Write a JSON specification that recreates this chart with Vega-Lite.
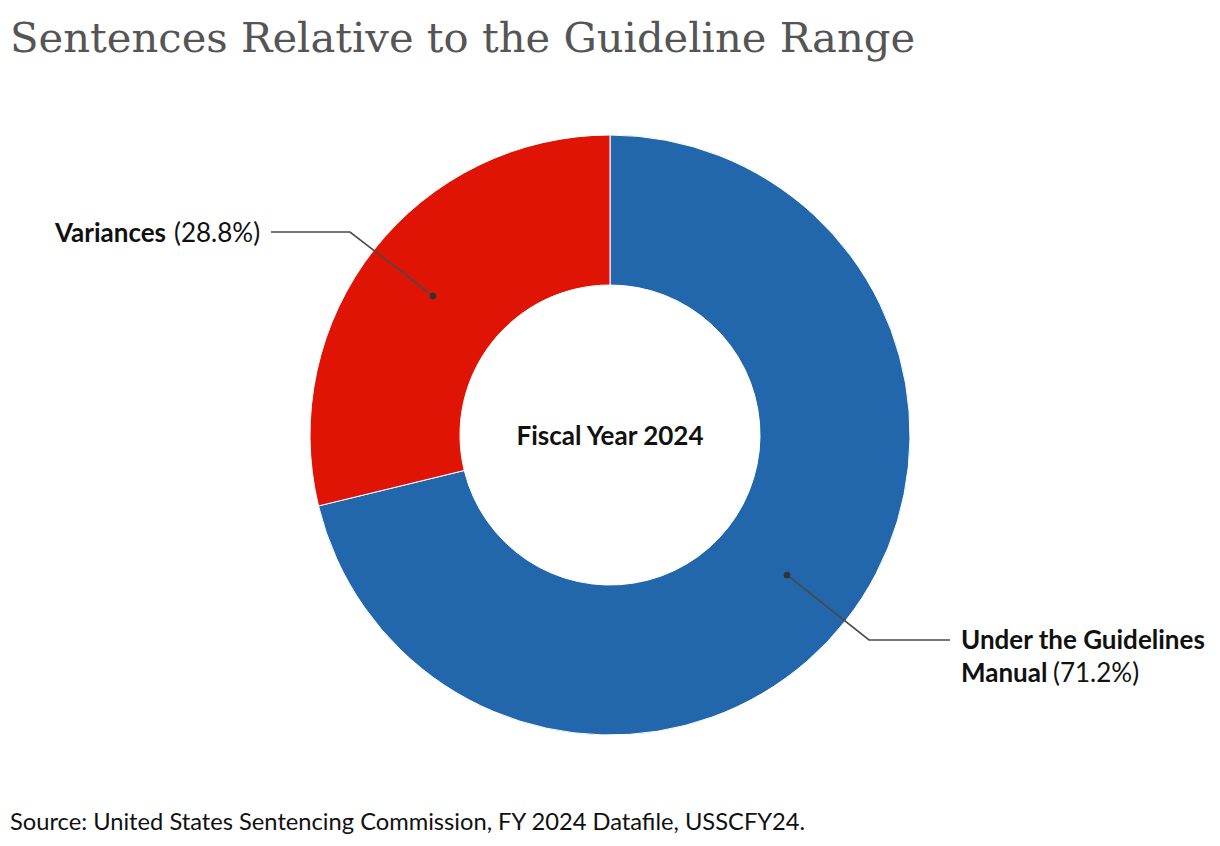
{
  "$schema": "https://vega.github.io/schema/vega-lite/v6.json",
  "width": 1220,
  "height": 766,
  "autosize": {"type": "none"},
  "padding": {"top": 80, "left": 0, "right": 0, "bottom": 0},
  "background": "white",
  "config": {"view": {"stroke": null}},
  "title": {
    "text": "Sentences Relative to the Guideline Range",
    "font": "DejaVu Serif",
    "fontSize": 41.7,
    "fontWeight": "normal",
    "color": "#555555",
    "anchor": "start",
    "frame": "group",
    "baseline": "alphabetic",
    "offset": 27,
    "dx": 10,
    "dy": 41
  },
  "datasets": {
    "slices": [
      {"category": "Under the Guidelines Manual", "pct": 71.2},
      {"category": "Variances", "pct": 28.8}
    ],
    "leaders": [
      {"label": "Variances", "step": 0, "x": -177, "y": 139},
      {"label": "Variances", "step": 1, "x": -260, "y": 203},
      {"label": "Variances", "step": 2, "x": -339, "y": 203},
      {"label": "Under the Guidelines Manual", "step": 0, "x": 177, "y": -140},
      {"label": "Under the Guidelines Manual", "step": 1, "x": 259, "y": -205},
      {"label": "Under the Guidelines Manual", "step": 2, "x": 340, "y": -205}
    ],
    "boldLabels": [
      {"text": "Variances", "x": -555, "y": 193},
      {"text": "Under the Guidelines", "x": 351, "y": -214},
      {"text": "Manual", "x": 351, "y": -247}
    ],
    "plainLabels": [
      {"text": "(28.8%)", "x": -436, "y": 193},
      {"text": "(71.2%)", "x": 443, "y": -247}
    ],
    "centerLabel": [
      {"text": "Fiscal Year 2024", "x": 0, "y": -10}
    ],
    "notes": [
      {"text": "Source: United States Sentencing Commission, FY 2024 Datafile, USSCFY24.", "x": -600, "y": -395}
    ]
  },
  "layer": [
    {
      "data": {"name": "slices"},
      "mark": {"type": "arc", "innerRadius": 150, "outerRadius": 300, "stroke": "white", "strokeWidth": 1},
      "encoding": {
        "theta": {"field": "pct", "type": "quantitative", "stack": true},
        "color": {
          "field": "category",
          "type": "nominal",
          "scale": {"domain": ["Under the Guidelines Manual", "Variances"], "range": ["#2266ac", "#e01404"]},
          "legend": null
        },
        "order": {"field": "pct", "type": "quantitative", "sort": "descending"},
        "x": {"datum": 0, "type": "quantitative", "scale": {"domain": [-610, 610], "nice": false, "zero": false}, "axis": null},
        "y": {"datum": 0, "type": "quantitative", "scale": {"domain": [-411, 355], "nice": false, "zero": false}, "axis": null}
      }
    },
    {
      "data": {"name": "leaders"},
      "mark": {"type": "line", "color": "#4a4a4a", "strokeWidth": 1.6},
      "encoding": {
        "x": {"field": "x", "type": "quantitative", "axis": null},
        "y": {"field": "y", "type": "quantitative", "axis": null},
        "detail": {"field": "label"},
        "order": {"field": "step", "type": "quantitative"}
      }
    },
    {
      "data": {"name": "leaders"},
      "transform": [{"filter": "datum.step == 0"}],
      "mark": {"type": "point", "filled": true, "color": "#333333", "size": 45, "opacity": 1},
      "encoding": {
        "x": {"field": "x", "type": "quantitative", "axis": null},
        "y": {"field": "y", "type": "quantitative", "axis": null}
      }
    },
    {
      "data": {"name": "boldLabels"},
      "mark": {"type": "text", "font": "Lato", "fontSize": 26, "fontWeight": "bold", "color": "#111111", "align": "left", "baseline": "alphabetic"},
      "encoding": {
        "x": {"field": "x", "type": "quantitative", "axis": null},
        "y": {"field": "y", "type": "quantitative", "axis": null},
        "text": {"field": "text"}
      }
    },
    {
      "data": {"name": "plainLabels"},
      "mark": {"type": "text", "font": "Lato", "fontSize": 26, "fontWeight": "normal", "color": "#111111", "align": "left", "baseline": "alphabetic"},
      "encoding": {
        "x": {"field": "x", "type": "quantitative", "axis": null},
        "y": {"field": "y", "type": "quantitative", "axis": null},
        "text": {"field": "text"}
      }
    },
    {
      "data": {"name": "centerLabel"},
      "mark": {"type": "text", "font": "Lato", "fontSize": 26, "fontWeight": "bold", "color": "#111111", "align": "center", "baseline": "alphabetic"},
      "encoding": {
        "x": {"field": "x", "type": "quantitative", "axis": null},
        "y": {"field": "y", "type": "quantitative", "axis": null},
        "text": {"field": "text"}
      }
    },
    {
      "data": {"name": "notes"},
      "mark": {"type": "text", "font": "Lato", "fontSize": 23.7, "fontWeight": "normal", "color": "#111111", "align": "left", "baseline": "alphabetic"},
      "encoding": {
        "x": {"field": "x", "type": "quantitative", "axis": null},
        "y": {"field": "y", "type": "quantitative", "axis": null},
        "text": {"field": "text"}
      }
    }
  ]
}
